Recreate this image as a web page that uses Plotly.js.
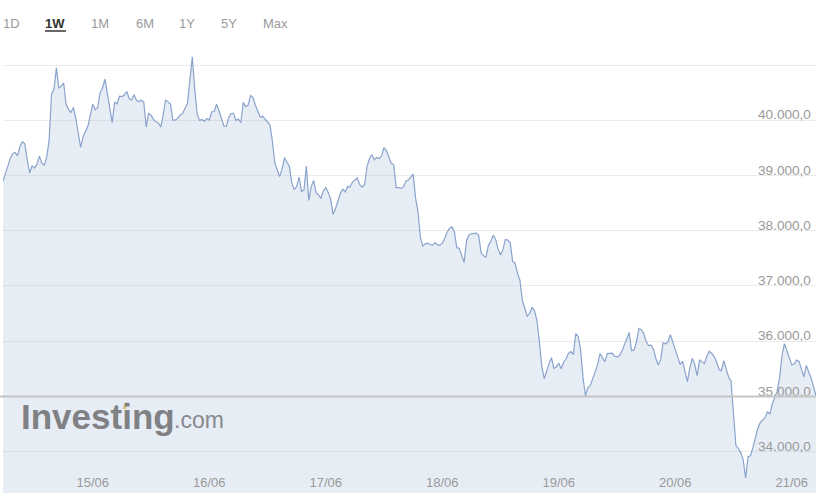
<!DOCTYPE html>
<html>
<head>
<meta charset="utf-8">
<script src="https://cdn.plot.ly/plotly-3.0.1.min.js"></script>
<style>
html,body{margin:0;padding:0;background:#fff;}
#chart{width:817px;height:497px;}
</style>
</head>
<body>
<div id="chart"></div>
<script>
// ---- data ----
const startTime = '2021-06-14 05:30';   // first observation
const stepMinutes = 30;                 // one observation every 30 minutes
const prices = [
38897,39044,39205,39309,39396,39418,39356,39525,39610,39572,
39278,39046,39176,39133,39205,39351,39222,39187,39327,39635,
40476,40554,40948,40585,40617,40675,40290,40196,40142,40231,
40036,39777,39510,39702,39786,39895,40100,40290,40191,40231,
40494,40581,40744,40456,40251,39958,40329,40294,40434,40428,
40457,40521,40390,40367,40461,40363,40339,40361,40330,39877,
40125,40091,40016,39973,39951,39877,40093,40368,40332,40292,
40004,40004,40033,40096,40124,40214,40309,40721,41147,40563,
40116,39995,40015,39984,40033,40004,40154,40158,40289,40171,
40033,39897,39889,40049,40122,40125,39998,40022,39955,40323,
40243,40272,40447,40416,40272,40149,40055,40071,40022,39986,
39918,39621,39227,39105,38980,39116,39325,39240,39162,38866,
38744,38800,38969,38712,38737,39169,38550,38799,38911,38690,
38652,38584,38722,38779,38693,38572,38296,38399,38535,38673,
38750,38702,38800,38791,38882,38926,38955,38833,38788,38837,
39167,39303,39376,39285,39327,39309,39354,39506,39452,39329,
39222,39194,38782,38782,38766,38791,38897,38917,38962,39024,
38590,38347,37873,37726,37762,37775,37751,37735,37784,37748,
37735,37771,37860,37973,38044,38069,37982,37693,37681,37554,
37427,37820,37922,37944,37953,37955,37915,37603,37546,37521,
37735,37810,37920,37842,37666,37559,37657,37842,37831,37786,
37445,37412,37227,37104,36741,36584,36450,36501,36614,36550,
36379,36000,35548,35321,35466,35594,35702,35510,35534,35601,
35501,35624,35682,35780,35811,35757,36138,36087,35848,35340,
35013,35158,35194,35329,35472,35575,35775,35702,35630,35775,
35782,35786,35728,35717,35739,35817,35929,36029,36156,35829,
35842,35984,36229,36210,36142,35998,35920,35929,35858,35686,
35568,35670,35971,35949,35993,36120,35991,35846,35704,35581,
35637,35457,35267,35512,35690,35583,35376,35659,35619,35594,
35724,35820,35782,35728,35628,35492,35466,35648,35496,35352,
35276,34675,34113,34058,33984,33851,33525,33911,33927,34074,
34247,34419,34525,34579,34614,34719,34684,34868,34991,35096,
35341,35746,35956,35828,35699,35572,35586,35657,35635,35501,
35356,35561,35457,35332,35172,35013
];
const previousClose = 35000;
const yTickVals = [34000,35000,36000,37000,38000,39000,40000,41000];
const yTickText = ['34.000,0','35.000,0','36.000,0','37.000,0','38.000,0','39.000,0','40.000,0',''];
const rangeButtons = ['1D','1W','1M','6M','1Y','5Y','Max'];
const activeButton = '1W';

// ---- build time stamps ----
function pad(n){return (n<10?'0':'')+n;}
function fmt(ms){const d=new Date(ms);return d.getUTCFullYear()+'-'+pad(d.getUTCMonth()+1)+'-'+pad(d.getUTCDate())+' '+pad(d.getUTCHours())+':'+pad(d.getUTCMinutes());}
const t0 = Date.UTC(2021,5,14,5,30);
const times = prices.map((_,i)=>fmt(t0 + i*stepMinutes*60000));

// ---- layout geometry ----
const W=817,H=497;
const M={l:3,r:1,t:48,b:4};
const PW=W-M.l-M.r, PH=H-M.t-M.b;
const px = x => (x-M.l)/PW;
const py = y => (H-M.b-y)/PH;

const buttonX = [11,55,100,144.5,187,228.5,275];
const annotations = rangeButtons.map((b,i)=>({
  xref:'paper',yref:'paper',x:px(buttonX[i]),y:py(24),xanchor:'center',yanchor:'middle',
  text: b===activeButton ? '<b>'+b+'</b>' : b,
  showarrow:false,
  font:{family:'Liberation Sans, Arial, sans-serif',size:13,color: b===activeButton ? '#333333' : '#9a9a9a'}
}));
annotations.push({
  xref:'paper',yref:'paper',x:px(19),y:py(416),xanchor:'left',yanchor:'middle',
  text:'<b>Investing</b>',showarrow:false,
  font:{family:'Liberation Sans, Arial, sans-serif',size:35,color:'#7f8184'}
});
annotations.push({
  xref:'paper',yref:'paper',x:px(172),y:py(420),xanchor:'left',yanchor:'middle',
  text:'.com',showarrow:false,
  font:{family:'Liberation Sans, Arial, sans-serif',size:23,color:'#888a8d'}
});

const shapes = [
  {type:'line',xref:'paper',yref:'y',x0:-M.l/PW,x1:1,y0:previousClose,y1:previousClose,
   line:{color:'#c4c4c4',width:2},layer:'above'},
  {type:'line',xref:'paper',yref:'paper',x0:px(45),x1:px(66),y0:py(31),y1:py(31),
   line:{color:'#333333',width:1.5}},
  {type:'path',xref:'paper',yref:'paper',
   path:'M '+px(122.5)+' '+py(409)+' L '+px(126)+' '+py(409)+' L '+px(128.5)+' '+py(402.5)+' L '+px(125)+' '+py(402.5)+' Z',
   fillcolor:'#d9c27a',line:{width:0},layer:'above'}
];

const trace = {
  type:'scatter',mode:'lines',x:times,y:prices,
  line:{color:'#8aa3cd',width:1.2},
  fill:'tozeroy',fillcolor:'rgba(160,185,215,0.25)',
  hoverinfo:'skip'
};

const layout = {
  width:W,height:H,margin:M,
  paper_bgcolor:'#ffffff',plot_bgcolor:'#ffffff',
  showlegend:false,
  font:{family:'Liberation Sans, Arial, sans-serif',size:12,color:'#9a9a9a'},
  xaxis:{type:'date',range:[times[0],times[times.length-1]],
    tickformat:'%d/%m',dtick:86400000,tick0:'2021-06-14',
    ticklabelposition:'inside',ticks:'',showgrid:false,zeroline:false,showline:false,
    tickfont:{size:13,color:'#9a9a9a'},ticklabelstandoff:0,fixedrange:true},
  yaxis:{range:[33252,41308],side:'right',anchor:'free',position:px(757),
    tickmode:'array',tickvals:yTickVals,ticktext:yTickText,
    ticklabelposition:'outside top',ticks:'',ticklen:0,ticklabelstandoff:0,ticklabelshift:4,
    showgrid:true,gridcolor:'#ebebeb',gridwidth:1,
    zeroline:false,showline:false,tickfont:{size:13.6,color:'#9a9a9a'},fixedrange:true},
  annotations:annotations,
  shapes:shapes
};

Plotly.newPlot('chart',[trace],layout,{displayModeBar:false,staticPlot:true});
</script>
</body>
</html>
